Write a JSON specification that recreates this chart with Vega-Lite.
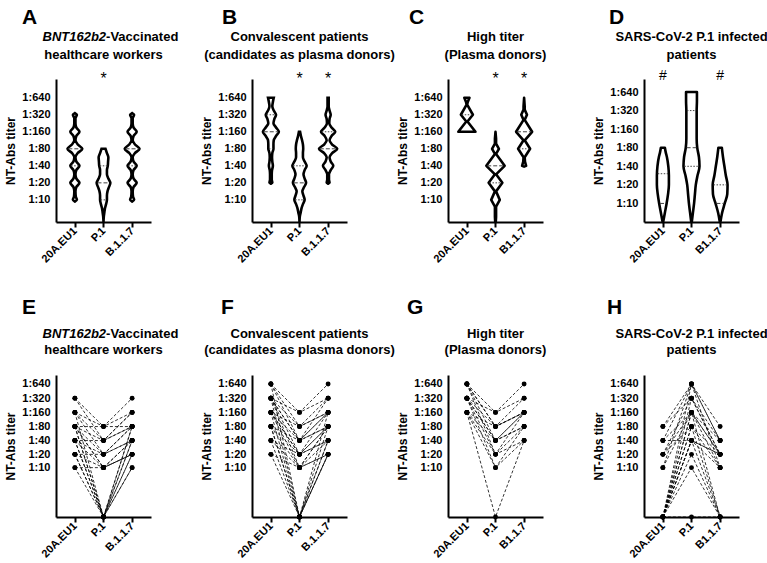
{
"$schema": "https://vega.github.io/schema/vega-lite/v6.json",
"background": "white",
"padding": {"left": 4, "top": 6, "right": 5, "bottom": 2},
"datasets": {
"pos": [{"k":"a","g":1},{"k":"b","g":2},{"k":"c","g":3}],
"one": [{"n":1}],
"violin": [
{"p":"A","g":1,"y":0.9,"lo":1,"hi":1},{"p":"A","g":1,"y":1.0,"lo":0.93,"hi":1.07},{"p":"A","g":1,"y":1.2,"lo":0.97,"hi":1.03},{"p":"A","g":1,"y":1.5,"lo":0.98,"hi":1.02},{"p":"A","g":1,"y":1.75,"lo":0.95,"hi":1.05},{"p":"A","g":1,"y":2.0,"lo":0.84,"hi":1.16},{"p":"A","g":1,"y":2.25,"lo":0.95,"hi":1.05},{"p":"A","g":1,"y":2.5,"lo":0.98,"hi":1.02},{"p":"A","g":1,"y":2.75,"lo":0.95,"hi":1.05},{"p":"A","g":1,"y":3.0,"lo":0.84,"hi":1.16},{"p":"A","g":1,"y":3.25,"lo":0.95,"hi":1.05},{"p":"A","g":1,"y":3.5,"lo":0.98,"hi":1.02},{"p":"A","g":1,"y":3.75,"lo":0.9,"hi":1.1},{"p":"A","g":1,"y":4.0,"lo":0.74,"hi":1.26},{"p":"A","g":1,"y":4.25,"lo":0.9,"hi":1.1},{"p":"A","g":1,"y":4.5,"lo":0.98,"hi":1.02},{"p":"A","g":1,"y":4.75,"lo":0.95,"hi":1.05},{"p":"A","g":1,"y":5.0,"lo":0.84,"hi":1.16},{"p":"A","g":1,"y":5.25,"lo":0.95,"hi":1.05},{"p":"A","g":1,"y":5.5,"lo":0.98,"hi":1.02},{"p":"A","g":1,"y":5.8,"lo":0.98,"hi":1.02},{"p":"A","g":1,"y":6.0,"lo":0.93,"hi":1.07},{"p":"A","g":1,"y":6.1,"lo":1,"hi":1},
{"p":"A","g":2,"y":-0.3,"lo":2,"hi":2},{"p":"A","g":2,"y":0.0,"lo":1.99,"hi":2.01},{"p":"A","g":2,"y":0.25,"lo":1.97,"hi":2.03},{"p":"A","g":2,"y":0.5,"lo":1.95,"hi":2.05},{"p":"A","g":2,"y":0.75,"lo":1.91,"hi":2.09},{"p":"A","g":2,"y":1.0,"lo":1.88,"hi":2.12},{"p":"A","g":2,"y":1.25,"lo":1.88,"hi":2.12},{"p":"A","g":2,"y":1.5,"lo":1.86,"hi":2.14},{"p":"A","g":2,"y":1.75,"lo":1.81,"hi":2.19},{"p":"A","g":2,"y":2.0,"lo":1.76,"hi":2.24},{"p":"A","g":2,"y":2.25,"lo":1.83,"hi":2.17},{"p":"A","g":2,"y":2.5,"lo":1.88,"hi":2.12},{"p":"A","g":2,"y":2.75,"lo":1.88,"hi":2.12},{"p":"A","g":2,"y":3.0,"lo":1.85,"hi":2.15},{"p":"A","g":2,"y":3.25,"lo":1.84,"hi":2.16},{"p":"A","g":2,"y":3.5,"lo":1.83,"hi":2.17},{"p":"A","g":2,"y":3.75,"lo":1.88,"hi":2.12},{"p":"A","g":2,"y":4.0,"lo":1.93,"hi":2.07},
{"p":"A","g":3,"y":0.9,"lo":3,"hi":3},{"p":"A","g":3,"y":1.0,"lo":2.93,"hi":3.07},{"p":"A","g":3,"y":1.2,"lo":2.97,"hi":3.03},{"p":"A","g":3,"y":1.5,"lo":2.98,"hi":3.02},{"p":"A","g":3,"y":1.75,"lo":2.95,"hi":3.05},{"p":"A","g":3,"y":2.0,"lo":2.84,"hi":3.16},{"p":"A","g":3,"y":2.25,"lo":2.95,"hi":3.05},{"p":"A","g":3,"y":2.5,"lo":2.98,"hi":3.02},{"p":"A","g":3,"y":2.75,"lo":2.95,"hi":3.05},{"p":"A","g":3,"y":3.0,"lo":2.84,"hi":3.16},{"p":"A","g":3,"y":3.25,"lo":2.95,"hi":3.05},{"p":"A","g":3,"y":3.5,"lo":2.98,"hi":3.02},{"p":"A","g":3,"y":3.75,"lo":2.9,"hi":3.1},{"p":"A","g":3,"y":4.0,"lo":2.74,"hi":3.26},{"p":"A","g":3,"y":4.25,"lo":2.9,"hi":3.1},{"p":"A","g":3,"y":4.5,"lo":2.98,"hi":3.02},{"p":"A","g":3,"y":4.75,"lo":2.95,"hi":3.05},{"p":"A","g":3,"y":5.0,"lo":2.84,"hi":3.16},{"p":"A","g":3,"y":5.25,"lo":2.95,"hi":3.05},{"p":"A","g":3,"y":5.5,"lo":2.98,"hi":3.02},{"p":"A","g":3,"y":5.8,"lo":2.98,"hi":3.02},{"p":"A","g":3,"y":6.0,"lo":2.93,"hi":3.07},{"p":"A","g":3,"y":6.1,"lo":3,"hi":3},
{"p":"B","g":1,"y":1.95,"lo":1,"hi":1},{"p":"B","g":1,"y":2.0,"lo":0.95,"hi":1.05},{"p":"B","g":1,"y":2.2,"lo":0.97,"hi":1.03},{"p":"B","g":1,"y":2.5,"lo":0.97,"hi":1.03},{"p":"B","g":1,"y":2.75,"lo":0.96,"hi":1.04},{"p":"B","g":1,"y":3.0,"lo":0.93,"hi":1.07},{"p":"B","g":1,"y":3.25,"lo":0.95,"hi":1.05},{"p":"B","g":1,"y":3.5,"lo":0.96,"hi":1.04},{"p":"B","g":1,"y":3.75,"lo":0.95,"hi":1.05},{"p":"B","g":1,"y":4.0,"lo":0.91,"hi":1.09},{"p":"B","g":1,"y":4.25,"lo":0.91,"hi":1.09},{"p":"B","g":1,"y":4.5,"lo":0.9,"hi":1.1},{"p":"B","g":1,"y":4.75,"lo":0.82,"hi":1.18},{"p":"B","g":1,"y":5.0,"lo":0.72,"hi":1.28},{"p":"B","g":1,"y":5.25,"lo":0.82,"hi":1.18},{"p":"B","g":1,"y":5.5,"lo":0.91,"hi":1.09},{"p":"B","g":1,"y":5.75,"lo":0.88,"hi":1.12},{"p":"B","g":1,"y":6.0,"lo":0.82,"hi":1.18},{"p":"B","g":1,"y":6.25,"lo":0.9,"hi":1.1},{"p":"B","g":1,"y":6.5,"lo":0.95,"hi":1.05},{"p":"B","g":1,"y":6.75,"lo":0.93,"hi":1.07},{"p":"B","g":1,"y":7.0,"lo":0.9,"hi":1.1},
{"p":"B","g":2,"y":-0.3,"lo":2,"hi":2},{"p":"B","g":2,"y":0.0,"lo":1.99,"hi":2.01},{"p":"B","g":2,"y":0.25,"lo":1.96,"hi":2.04},{"p":"B","g":2,"y":0.5,"lo":1.93,"hi":2.07},{"p":"B","g":2,"y":0.75,"lo":1.88,"hi":2.12},{"p":"B","g":2,"y":1.0,"lo":1.82,"hi":2.18},{"p":"B","g":2,"y":1.25,"lo":1.86,"hi":2.14},{"p":"B","g":2,"y":1.5,"lo":1.9,"hi":2.1},{"p":"B","g":2,"y":1.75,"lo":1.84,"hi":2.16},{"p":"B","g":2,"y":2.0,"lo":1.77,"hi":2.23},{"p":"B","g":2,"y":2.25,"lo":1.82,"hi":2.18},{"p":"B","g":2,"y":2.5,"lo":1.86,"hi":2.14},{"p":"B","g":2,"y":2.75,"lo":1.82,"hi":2.18},{"p":"B","g":2,"y":3.0,"lo":1.75,"hi":2.25},{"p":"B","g":2,"y":3.25,"lo":1.82,"hi":2.18},{"p":"B","g":2,"y":3.5,"lo":1.88,"hi":2.12},{"p":"B","g":2,"y":3.75,"lo":1.88,"hi":2.12},{"p":"B","g":2,"y":4.0,"lo":1.87,"hi":2.13},{"p":"B","g":2,"y":4.25,"lo":1.88,"hi":2.12},{"p":"B","g":2,"y":4.5,"lo":1.91,"hi":2.09},{"p":"B","g":2,"y":4.75,"lo":1.95,"hi":2.05},{"p":"B","g":2,"y":5.0,"lo":1.98,"hi":2.02},
{"p":"B","g":3,"y":1.95,"lo":3,"hi":3},{"p":"B","g":3,"y":2.0,"lo":2.95,"hi":3.05},{"p":"B","g":3,"y":2.2,"lo":2.97,"hi":3.03},{"p":"B","g":3,"y":2.5,"lo":2.97,"hi":3.03},{"p":"B","g":3,"y":2.75,"lo":2.91,"hi":3.09},{"p":"B","g":3,"y":3.0,"lo":2.82,"hi":3.18},{"p":"B","g":3,"y":3.25,"lo":2.91,"hi":3.09},{"p":"B","g":3,"y":3.5,"lo":2.95,"hi":3.05},{"p":"B","g":3,"y":3.75,"lo":2.86,"hi":3.14},{"p":"B","g":3,"y":4.0,"lo":2.68,"hi":3.32},{"p":"B","g":3,"y":4.25,"lo":2.86,"hi":3.14},{"p":"B","g":3,"y":4.5,"lo":2.95,"hi":3.05},{"p":"B","g":3,"y":4.75,"lo":2.88,"hi":3.12},{"p":"B","g":3,"y":5.0,"lo":2.75,"hi":3.25},{"p":"B","g":3,"y":5.25,"lo":2.88,"hi":3.12},{"p":"B","g":3,"y":5.5,"lo":2.96,"hi":3.04},{"p":"B","g":3,"y":5.75,"lo":2.95,"hi":3.05},{"p":"B","g":3,"y":6.0,"lo":2.91,"hi":3.09},{"p":"B","g":3,"y":6.25,"lo":2.95,"hi":3.05},{"p":"B","g":3,"y":6.5,"lo":2.98,"hi":3.02},{"p":"B","g":3,"y":6.75,"lo":2.98,"hi":3.02},{"p":"B","g":3,"y":7.0,"lo":2.98,"hi":3.02},
{"p":"C","g":1,"y":5.0,"lo":0.7,"hi":1.3},{"p":"C","g":1,"y":5.6,"lo":0.98,"hi":1.02},{"p":"C","g":1,"y":6.0,"lo":0.79,"hi":1.21},{"p":"C","g":1,"y":6.6,"lo":0.99,"hi":1.01},{"p":"C","g":1,"y":6.75,"lo":0.97,"hi":1.03},{"p":"C","g":1,"y":7.0,"lo":0.91,"hi":1.09},
{"p":"C","g":2,"y":-0.3,"lo":1.99,"hi":2.01},{"p":"C","g":2,"y":0.0,"lo":1.98,"hi":2.02},{"p":"C","g":2,"y":0.6,"lo":1.98,"hi":2.02},{"p":"C","g":2,"y":1.0,"lo":1.85,"hi":2.15},{"p":"C","g":2,"y":1.5,"lo":1.98,"hi":2.02},{"p":"C","g":2,"y":2.0,"lo":1.76,"hi":2.24},{"p":"C","g":2,"y":2.5,"lo":1.98,"hi":2.02},{"p":"C","g":2,"y":3.0,"lo":1.68,"hi":2.32},{"p":"C","g":2,"y":3.7,"lo":1.98,"hi":2.02},{"p":"C","g":2,"y":4.0,"lo":1.88,"hi":2.12},{"p":"C","g":2,"y":4.3,"lo":1.98,"hi":2.02},{"p":"C","g":2,"y":4.6,"lo":1.98,"hi":2.02},{"p":"C","g":2,"y":5.0,"lo":2,"hi":2},
{"p":"C","g":3,"y":2.95,"lo":3,"hi":3},{"p":"C","g":3,"y":3.0,"lo":2.93,"hi":3.07},{"p":"C","g":3,"y":3.25,"lo":2.97,"hi":3.03},{"p":"C","g":3,"y":3.5,"lo":2.98,"hi":3.02},{"p":"C","g":3,"y":4.0,"lo":2.79,"hi":3.21},{"p":"C","g":3,"y":4.5,"lo":2.98,"hi":3.02},{"p":"C","g":3,"y":5.0,"lo":2.72,"hi":3.28},{"p":"C","g":3,"y":5.7,"lo":2.98,"hi":3.02},{"p":"C","g":3,"y":6.0,"lo":2.9,"hi":3.1},{"p":"C","g":3,"y":6.3,"lo":2.98,"hi":3.02},{"p":"C","g":3,"y":6.5,"lo":2.98,"hi":3.02},{"p":"C","g":3,"y":7.0,"lo":3,"hi":3},
{"p":"D","g":1,"y":0.0,"lo":0.99,"hi":1.01},{"p":"D","g":1,"y":0.5,"lo":0.93,"hi":1.07},{"p":"D","g":1,"y":1.0,"lo":0.87,"hi":1.13},{"p":"D","g":1,"y":1.5,"lo":0.82,"hi":1.18},{"p":"D","g":1,"y":2.0,"lo":0.79,"hi":1.21},{"p":"D","g":1,"y":2.5,"lo":0.79,"hi":1.21},{"p":"D","g":1,"y":3.0,"lo":0.81,"hi":1.19},{"p":"D","g":1,"y":3.5,"lo":0.86,"hi":1.14},{"p":"D","g":1,"y":3.75,"lo":0.9,"hi":1.1},{"p":"D","g":1,"y":4.0,"lo":0.93,"hi":1.07},
{"p":"D","g":2,"y":0.0,"lo":1.99,"hi":2.01},{"p":"D","g":2,"y":0.5,"lo":1.95,"hi":2.05},{"p":"D","g":2,"y":1.0,"lo":1.91,"hi":2.09},{"p":"D","g":2,"y":1.5,"lo":1.88,"hi":2.12},{"p":"D","g":2,"y":2.0,"lo":1.85,"hi":2.15},{"p":"D","g":2,"y":2.5,"lo":1.79,"hi":2.21},{"p":"D","g":2,"y":3.0,"lo":1.72,"hi":2.28},{"p":"D","g":2,"y":3.5,"lo":1.74,"hi":2.26},{"p":"D","g":2,"y":4.0,"lo":1.8,"hi":2.2},{"p":"D","g":2,"y":4.5,"lo":1.82,"hi":2.18},{"p":"D","g":2,"y":5.0,"lo":1.82,"hi":2.18},{"p":"D","g":2,"y":5.5,"lo":1.82,"hi":2.18},{"p":"D","g":2,"y":6.0,"lo":1.82,"hi":2.18},{"p":"D","g":2,"y":6.5,"lo":1.81,"hi":2.19},{"p":"D","g":2,"y":7.0,"lo":1.81,"hi":2.19},
{"p":"D","g":3,"y":0.0,"lo":2.99,"hi":3.01},{"p":"D","g":3,"y":0.5,"lo":2.93,"hi":3.07},{"p":"D","g":3,"y":1.0,"lo":2.84,"hi":3.16},{"p":"D","g":3,"y":1.5,"lo":2.75,"hi":3.25},{"p":"D","g":3,"y":2.0,"lo":2.74,"hi":3.26},{"p":"D","g":3,"y":2.5,"lo":2.8,"hi":3.2},{"p":"D","g":3,"y":3.0,"lo":2.85,"hi":3.15},{"p":"D","g":3,"y":3.5,"lo":2.9,"hi":3.1},{"p":"D","g":3,"y":4.0,"lo":2.94,"hi":3.06}
],
"quart": [
{"p":"A","y":4,"lo":0.77,"hi":1.23,"t":"m"},{"p":"A","y":3,"lo":0.87,"hi":1.13,"t":"q"},{"p":"A","y":2,"lo":1.79,"hi":2.21,"t":"m"},{"p":"A","y":3,"lo":1.87,"hi":2.13,"t":"q"},{"p":"A","y":1,"lo":1.9,"hi":2.1,"t":"q"},{"p":"A","y":4,"lo":2.77,"hi":3.23,"t":"m"},{"p":"A","y":3,"lo":2.87,"hi":3.13,"t":"q"},
{"p":"B","y":6,"lo":0.85,"hi":1.15,"t":"q"},{"p":"B","y":5,"lo":0.75,"hi":1.25,"t":"m"},{"p":"B","y":4,"lo":0.93,"hi":1.07,"t":"q"},{"p":"B","y":3,"lo":1.78,"hi":2.22,"t":"q"},{"p":"B","y":2,"lo":1.8,"hi":2.2,"t":"m"},{"p":"B","y":1,"lo":1.85,"hi":2.15,"t":"q"},{"p":"B","y":5,"lo":2.78,"hi":3.22,"t":"q"},{"p":"B","y":4,"lo":2.71,"hi":3.29,"t":"m"},
{"p":"C","y":6,"lo":0.82,"hi":1.18,"t":"q"},{"p":"C","y":3,"lo":1.71,"hi":2.29,"t":"m"},{"p":"C","y":2,"lo":1.79,"hi":2.21,"t":"q"},{"p":"C","y":5,"lo":2.75,"hi":3.25,"t":"m"},{"p":"C","y":4,"lo":2.82,"hi":3.18,"t":"q"},
{"p":"D","y":2.6,"lo":0.82,"hi":1.18,"t":"q"},{"p":"D","y":1,"lo":0.9,"hi":1.1,"t":"m"},{"p":"D","y":6,"lo":1.84,"hi":2.16,"t":"q"},{"p":"D","y":4,"lo":1.83,"hi":2.17,"t":"m"},{"p":"D","y":3,"lo":1.75,"hi":2.25,"t":"q"},{"p":"D","y":2,"lo":2.77,"hi":3.23,"t":"q"},{"p":"D","y":1,"lo":2.87,"hi":3.13,"t":"m"}
],
"pairs": [
{"p":"E","s":1,"a":320,"b":80,"c":320},{"p":"E","s":2,"a":320,"b":40,"c":160},{"p":"E","s":3,"a":160,"b":80,"c":160},{"p":"E","s":4,"a":160,"b":20,"c":80},{"p":"E","s":5,"a":160,"b":0,"c":80},{"p":"E","s":6,"a":80,"b":80,"c":80},{"p":"E","s":7,"a":80,"b":40,"c":160},{"p":"E","s":8,"a":80,"b":20,"c":80},{"p":"E","s":9,"a":80,"b":10,"c":40},{"p":"E","s":10,"a":80,"b":0,"c":40},{"p":"E","s":11,"a":80,"b":0,"c":80},{"p":"E","s":12,"a":40,"b":40,"c":80},{"p":"E","s":13,"a":40,"b":20,"c":40},{"p":"E","s":14,"a":40,"b":10,"c":40},{"p":"E","s":15,"a":40,"b":0,"c":20},{"p":"E","s":16,"a":40,"b":0,"c":40},{"p":"E","s":17,"a":20,"b":20,"c":40},{"p":"E","s":18,"a":20,"b":10,"c":20},{"p":"E","s":19,"a":20,"b":0,"c":20},{"p":"E","s":20,"a":20,"b":0,"c":10},{"p":"E","s":21,"a":10,"b":0,"c":10},{"p":"E","s":22,"a":10,"b":10,"c":20},{"p":"E","s":23,"a":160,"b":40,"c":80},{"p":"E","s":24,"a":80,"b":10,"c":20},
{"p":"F","s":1,"a":640,"b":160,"c":640},{"p":"F","s":2,"a":640,"b":80,"c":320},{"p":"F","s":3,"a":640,"b":40,"c":160},{"p":"F","s":4,"a":640,"b":0,"c":160},{"p":"F","s":5,"a":320,"b":160,"c":320},{"p":"F","s":6,"a":320,"b":80,"c":160},{"p":"F","s":7,"a":320,"b":40,"c":160},{"p":"F","s":8,"a":320,"b":20,"c":80},{"p":"F","s":9,"a":320,"b":10,"c":80},{"p":"F","s":10,"a":320,"b":0,"c":80},{"p":"F","s":11,"a":160,"b":80,"c":160},{"p":"F","s":12,"a":160,"b":40,"c":80},{"p":"F","s":13,"a":160,"b":20,"c":80},{"p":"F","s":14,"a":160,"b":10,"c":40},{"p":"F","s":15,"a":160,"b":0,"c":40},{"p":"F","s":16,"a":80,"b":40,"c":80},{"p":"F","s":17,"a":80,"b":20,"c":40},{"p":"F","s":18,"a":80,"b":10,"c":80},{"p":"F","s":19,"a":80,"b":0,"c":40},{"p":"F","s":20,"a":80,"b":0,"c":20},{"p":"F","s":21,"a":40,"b":20,"c":40},{"p":"F","s":22,"a":40,"b":10,"c":20},{"p":"F","s":23,"a":40,"b":0,"c":20},{"p":"F","s":24,"a":20,"b":10,"c":20},{"p":"F","s":25,"a":20,"b":0,"c":20},{"p":"F","s":26,"a":160,"b":20,"c":160},{"p":"F","s":27,"a":320,"b":40,"c":320},
{"p":"G","s":1,"a":640,"b":160,"c":640},{"p":"G","s":2,"a":640,"b":80,"c":320},{"p":"G","s":3,"a":640,"b":40,"c":160},{"p":"G","s":4,"a":640,"b":20,"c":160},{"p":"G","s":5,"a":320,"b":160,"c":320},{"p":"G","s":6,"a":320,"b":80,"c":160},{"p":"G","s":7,"a":320,"b":40,"c":160},{"p":"G","s":8,"a":320,"b":20,"c":80},{"p":"G","s":9,"a":320,"b":10,"c":80},{"p":"G","s":10,"a":160,"b":80,"c":160},{"p":"G","s":11,"a":160,"b":40,"c":80},{"p":"G","s":12,"a":160,"b":20,"c":40},{"p":"G","s":13,"a":160,"b":10,"c":40},{"p":"G","s":14,"a":160,"b":0,"c":40},{"p":"G","s":15,"a":320,"b":40,"c":80},{"p":"G","s":16,"a":640,"b":80,"c":160},
{"p":"H","s":1,"a":80,"b":640,"c":80},{"p":"H","s":2,"a":80,"b":320,"c":40},{"p":"H","s":3,"a":40,"b":640,"c":40},{"p":"H","s":4,"a":40,"b":160,"c":20},{"p":"H","s":5,"a":40,"b":40,"c":20},{"p":"H","s":6,"a":20,"b":320,"c":20},{"p":"H","s":7,"a":20,"b":160,"c":10},{"p":"H","s":8,"a":20,"b":80,"c":10},{"p":"H","s":9,"a":10,"b":640,"c":10},{"p":"H","s":10,"a":10,"b":160,"c":20},{"p":"H","s":11,"a":0,"b":640,"c":40},{"p":"H","s":12,"a":0,"b":320,"c":20},{"p":"H","s":13,"a":0,"b":160,"c":0},{"p":"H","s":14,"a":0,"b":80,"c":20},{"p":"H","s":15,"a":0,"b":80,"c":0},{"p":"H","s":16,"a":0,"b":40,"c":10},{"p":"H","s":17,"a":0,"b":40,"c":0},{"p":"H","s":18,"a":0,"b":20,"c":0},{"p":"H","s":19,"a":0,"b":10,"c":0},{"p":"H","s":20,"a":0,"b":0,"c":0},{"p":"H","s":21,"a":0,"b":40,"c":20},{"p":"H","s":22,"a":0,"b":160,"c":40}
]
},
"columns": 4,
"spacing": {"row": 153, "column": 101},
"bounds": "flush",
"concat": [
{"width": 95, "height": 143, "title": {"text": "A", "dx": -34},
 "layer": [
  {"data": {"name": "violin"}, "transform": [{"filter": "datum.p === 'A'"}],
   "mark": {"type": "area", "orient": "horizontal", "interpolate": "monotone", "fill": "white", "stroke": "black", "strokeWidth": 2.6},
   "encoding": {
    "y": {"field": "y", "type": "quantitative", "scale": {"domain": [-0.3, 8.1], "nice": false, "zero": false}, "axis": {"title": "NT-Abs titer", "values": [1,2,3,4,5,6,7], "tickCount": 10, "labelOverlap": false, "labelExpr": "'1:' + (5 * pow(2, datum.value))"}},
    "x": {"field": "lo", "type": "quantitative", "scale": {"domain": [0.34, 3.66], "nice": false, "zero": false}, "axis": {"title": null, "values": [1,2,3], "tickCount": 5, "labelOverlap": false, "labelExpr": "datum.value == 1 ? '20A.EU1' : datum.value == 2 ? 'P.1' : 'B.1.1.7'"}},
    "x2": {"field": "hi"}, "detail": {"field": "g"}}},
  {"data": {"name": "quart"}, "transform": [{"filter": "datum.p === 'A'"}],
   "mark": {"type": "rule", "strokeWidth": 1, "color": "#444"},
   "encoding": {"y": {"field": "y", "type": "quantitative"}, "x": {"field": "lo", "type": "quantitative"}, "x2": {"field": "hi"},
    "strokeDash": {"field": "t", "type": "nominal", "scale": {"domain": ["m", "q"], "range": [[4, 2], [1.5, 1.5]]}, "legend": null}}},
  {"data": {"values": [{"g": 2, "s": "*"}]}, "mark": {"type": "text", "fontSize": 16, "color": "black"},
   "encoding": {"x": {"field": "g", "type": "quantitative"}, "y": {"datum": 8.1}, "text": {"field": "s"}}},
  {"data": {"name": "one"}, "mark": {"type": "text", "fontSize": 13, "fontWeight": "bold", "fontStyle": "italic", "align": "right", "color": "black"},
   "encoding": {"x": {"datum": 2.09}, "y": {"datum": 10.57}, "text": {"value": "BNT162b2"}}},
  {"data": {"name": "one"}, "mark": {"type": "text", "fontSize": 13, "fontWeight": "bold", "align": "left", "color": "black"},
   "encoding": {"x": {"datum": 2.09}, "y": {"datum": 10.57}, "text": {"value": "-Vaccinated"}}},
  {"data": {"name": "one"}, "mark": {"type": "text", "fontSize": 13, "fontWeight": "bold", "align": "center", "color": "black"},
   "encoding": {"x": {"datum": 2}, "y": {"datum": 9.52}, "text": {"value": "healthcare workers"}}}
 ]},
{"width": 95, "height": 143, "title": {"text": "B", "dx": -30},
 "layer": [
  {"data": {"name": "violin"}, "transform": [{"filter": "datum.p === 'B'"}],
   "mark": {"type": "area", "orient": "horizontal", "interpolate": "monotone", "fill": "white", "stroke": "black", "strokeWidth": 2.6},
   "encoding": {
    "y": {"field": "y", "type": "quantitative", "scale": {"domain": [-0.3, 8.1], "nice": false, "zero": false}, "axis": {"title": "NT-Abs titer", "values": [1,2,3,4,5,6,7], "tickCount": 10, "labelOverlap": false, "labelExpr": "'1:' + (5 * pow(2, datum.value))"}},
    "x": {"field": "lo", "type": "quantitative", "scale": {"domain": [0.34, 3.66], "nice": false, "zero": false}, "axis": {"title": null, "values": [1,2,3], "tickCount": 5, "labelOverlap": false, "labelExpr": "datum.value == 1 ? '20A.EU1' : datum.value == 2 ? 'P.1' : 'B.1.1.7'"}},
    "x2": {"field": "hi"}, "detail": {"field": "g"}}},
  {"data": {"name": "quart"}, "transform": [{"filter": "datum.p === 'B'"}],
   "mark": {"type": "rule", "strokeWidth": 1, "color": "#444"},
   "encoding": {"y": {"field": "y", "type": "quantitative"}, "x": {"field": "lo", "type": "quantitative"}, "x2": {"field": "hi"},
    "strokeDash": {"field": "t", "type": "nominal", "scale": {"domain": ["m", "q"], "range": [[4, 2], [1.5, 1.5]]}, "legend": null}}},
  {"data": {"values": [{"g": 2, "s": "*"}, {"g": 3, "s": "*"}]}, "mark": {"type": "text", "fontSize": 16, "color": "black"},
   "encoding": {"x": {"field": "g", "type": "quantitative"}, "y": {"datum": 8.1}, "text": {"field": "s"}}},
  {"data": {"name": "one"}, "mark": {"type": "text", "fontSize": 13, "fontWeight": "bold", "align": "center", "color": "black"},
   "encoding": {"x": {"datum": 2}, "y": {"datum": 10.57}, "text": {"value": "Convalescent patients"}}},
  {"data": {"name": "one"}, "mark": {"type": "text", "fontSize": 13, "fontWeight": "bold", "align": "center", "color": "black"},
   "encoding": {"x": {"datum": 2}, "y": {"datum": 9.52}, "text": {"value": "(candidates as plasma donors)"}}}
 ]},
{"width": 95, "height": 143, "title": {"text": "C", "dx": -39},
 "layer": [
  {"data": {"name": "violin"}, "transform": [{"filter": "datum.p === 'C'"}],
   "mark": {"type": "area", "orient": "horizontal", "interpolate": "linear", "fill": "white", "stroke": "black", "strokeWidth": 2.6, "strokeJoin": "round"},
   "encoding": {
    "y": {"field": "y", "type": "quantitative", "scale": {"domain": [-0.3, 8.1], "nice": false, "zero": false}, "axis": {"title": "NT-Abs titer", "values": [1,2,3,4,5,6,7], "tickCount": 10, "labelOverlap": false, "labelExpr": "'1:' + (5 * pow(2, datum.value))"}},
    "x": {"field": "lo", "type": "quantitative", "scale": {"domain": [0.34, 3.66], "nice": false, "zero": false}, "axis": {"title": null, "values": [1,2,3], "tickCount": 5, "labelOverlap": false, "labelExpr": "datum.value == 1 ? '20A.EU1' : datum.value == 2 ? 'P.1' : 'B1.1.7'"}},
    "x2": {"field": "hi"}, "detail": {"field": "g"}}},
  {"data": {"name": "quart"}, "transform": [{"filter": "datum.p === 'C'"}],
   "mark": {"type": "rule", "strokeWidth": 1, "color": "#444"},
   "encoding": {"y": {"field": "y", "type": "quantitative"}, "x": {"field": "lo", "type": "quantitative"}, "x2": {"field": "hi"},
    "strokeDash": {"field": "t", "type": "nominal", "scale": {"domain": ["m", "q"], "range": [[4, 2], [1.5, 1.5]]}, "legend": null}}},
  {"data": {"values": [{"g": 2, "s": "*"}, {"g": 3, "s": "*"}]}, "mark": {"type": "text", "fontSize": 16, "color": "black"},
   "encoding": {"x": {"field": "g", "type": "quantitative"}, "y": {"datum": 8.1}, "text": {"field": "s"}}},
  {"data": {"name": "one"}, "mark": {"type": "text", "fontSize": 13, "fontWeight": "bold", "align": "center", "color": "black"},
   "encoding": {"x": {"datum": 2}, "y": {"datum": 10.57}, "text": {"value": "High titer"}}},
  {"data": {"name": "one"}, "mark": {"type": "text", "fontSize": 13, "fontWeight": "bold", "align": "center", "color": "black"},
   "encoding": {"x": {"datum": 2}, "y": {"datum": 9.52}, "text": {"value": "(Plasma donors)"}}}
 ]},
{"width": 95, "height": 143, "title": {"text": "D", "dx": -35},
 "layer": [
  {"data": {"name": "violin"}, "transform": [{"filter": "datum.p === 'D'"}],
   "mark": {"type": "area", "orient": "horizontal", "interpolate": "monotone", "fill": "white", "stroke": "black", "strokeWidth": 2.6, "strokeJoin": "round"},
   "encoding": {
    "y": {"field": "y", "type": "quantitative", "scale": {"domain": [0, 7.7], "nice": false, "zero": false}, "axis": {"title": "NT-Abs titer", "values": [1,2,3,4,5,6,7], "tickCount": 10, "labelOverlap": false, "labelExpr": "'1:' + (5 * pow(2, datum.value))"}},
    "x": {"field": "lo", "type": "quantitative", "scale": {"domain": [0.34, 3.66], "nice": false, "zero": false}, "axis": {"title": null, "values": [1,2,3], "tickCount": 5, "labelOverlap": false, "labelExpr": "datum.value == 1 ? '20A.EU1' : datum.value == 2 ? 'P.1' : 'B1.1.7'"}},
    "x2": {"field": "hi"}, "detail": {"field": "g"}}},
  {"data": {"name": "quart"}, "transform": [{"filter": "datum.p === 'D'"}],
   "mark": {"type": "rule", "strokeWidth": 1, "color": "#444"},
   "encoding": {"y": {"field": "y", "type": "quantitative"}, "x": {"field": "lo", "type": "quantitative"}, "x2": {"field": "hi"},
    "strokeDash": {"field": "t", "type": "nominal", "scale": {"domain": ["m", "q"], "range": [[4, 2], [1.5, 1.5]]}, "legend": null}}},
  {"data": {"values": [{"g": 1, "s": "#"}, {"g": 3, "s": "#"}]}, "mark": {"type": "text", "fontSize": 14, "color": "black"},
   "encoding": {"x": {"field": "g", "type": "quantitative"}, "y": {"datum": 7.85}, "text": {"field": "s"}}},
  {"data": {"name": "one"}, "mark": {"type": "text", "fontSize": 13, "fontWeight": "bold", "align": "center", "color": "black"},
   "encoding": {"x": {"datum": 2}, "y": {"datum": 9.96}, "text": {"value": "SARS-CoV-2 P.1 infected"}}},
  {"data": {"name": "one"}, "mark": {"type": "text", "fontSize": 13, "fontWeight": "bold", "align": "center", "color": "black"},
   "encoding": {"x": {"datum": 2}, "y": {"datum": 9.0}, "text": {"value": "patients"}}}
 ]},
{"width": 95, "height": 142, "title": {"text": "E", "dx": -34, "offset": 10},
 "layer": [
  {"data": {"name": "pairs"}, "transform": [{"filter": "datum.p === 'E'"}, {"fold": ["a", "b", "c"], "as": ["k", "t"]}, {"lookup": "k", "from": {"data": {"name": "pos"}, "key": "k", "fields": ["g"]}}],
   "mark": {"type": "line", "strokeDash": [3, 2], "strokeWidth": 0.8, "color": "black"},
   "encoding": {
    "y": {"field": "t", "type": "quantitative", "scale": {"type": "symlog", "domain": [0, 990], "nice": false, "zero": false}, "axis": {"title": "NT-Abs titer", "values": [10,20,40,80,160,320,640], "tickCount": 10, "labelOverlap": false, "labelExpr": "'1:' + datum.value"}},
    "x": {"field": "g", "type": "quantitative", "scale": {"domain": [0.34, 3.66], "nice": false, "zero": false}, "axis": {"title": null, "values": [1,2,3], "tickCount": 5, "labelOverlap": false, "labelExpr": "datum.value == 1 ? '20A.EU1' : datum.value == 2 ? 'P.1' : 'B.1.1.7'"}},
    "detail": {"field": "s"}}},
  {"data": {"name": "pairs"}, "transform": [{"filter": "datum.p === 'E'"}, {"fold": ["a", "b", "c"], "as": ["k", "t"]}, {"lookup": "k", "from": {"data": {"name": "pos"}, "key": "k", "fields": ["g"]}}],
   "mark": {"type": "circle", "size": 24, "color": "black", "opacity": 1},
   "encoding": {"y": {"field": "t", "type": "quantitative"}, "x": {"field": "g", "type": "quantitative"}}},
  {"data": {"name": "one"}, "mark": {"type": "text", "fontSize": 13, "fontWeight": "bold", "fontStyle": "italic", "align": "right", "color": "black"},
   "encoding": {"x": {"datum": 2.09}, "y": {"datum": 7266}, "text": {"value": "BNT162b2"}}},
  {"data": {"name": "one"}, "mark": {"type": "text", "fontSize": 13, "fontWeight": "bold", "align": "left", "color": "black"},
   "encoding": {"x": {"datum": 2.09}, "y": {"datum": 7266}, "text": {"value": "-Vaccinated"}}},
  {"data": {"name": "one"}, "mark": {"type": "text", "fontSize": 13, "fontWeight": "bold", "align": "center", "color": "black"},
   "encoding": {"x": {"datum": 2}, "y": {"datum": 3341}, "text": {"value": "healthcare workers"}}}
 ]},
{"width": 95, "height": 142, "title": {"text": "F", "dx": -31, "offset": 10},
 "layer": [
  {"data": {"name": "pairs"}, "transform": [{"filter": "datum.p === 'F'"}, {"fold": ["a", "b", "c"], "as": ["k", "t"]}, {"lookup": "k", "from": {"data": {"name": "pos"}, "key": "k", "fields": ["g"]}}],
   "mark": {"type": "line", "strokeDash": [3, 2], "strokeWidth": 0.8, "color": "black"},
   "encoding": {
    "y": {"field": "t", "type": "quantitative", "scale": {"type": "symlog", "domain": [0, 990], "nice": false, "zero": false}, "axis": {"title": "NT-Abs titer", "values": [10,20,40,80,160,320,640], "tickCount": 10, "labelOverlap": false, "labelExpr": "'1:' + datum.value"}},
    "x": {"field": "g", "type": "quantitative", "scale": {"domain": [0.34, 3.66], "nice": false, "zero": false}, "axis": {"title": null, "values": [1,2,3], "tickCount": 5, "labelOverlap": false, "labelExpr": "datum.value == 1 ? '20A.EU1' : datum.value == 2 ? 'P.1' : 'B.1.1.7'"}},
    "detail": {"field": "s"}}},
  {"data": {"name": "pairs"}, "transform": [{"filter": "datum.p === 'F'"}, {"fold": ["a", "b", "c"], "as": ["k", "t"]}, {"lookup": "k", "from": {"data": {"name": "pos"}, "key": "k", "fields": ["g"]}}],
   "mark": {"type": "circle", "size": 24, "color": "black", "opacity": 1},
   "encoding": {"y": {"field": "t", "type": "quantitative"}, "x": {"field": "g", "type": "quantitative"}}},
  {"data": {"name": "one"}, "mark": {"type": "text", "fontSize": 13, "fontWeight": "bold", "align": "center", "color": "black"},
   "encoding": {"x": {"datum": 2}, "y": {"datum": 7266}, "text": {"value": "Convalescent patients"}}},
  {"data": {"name": "one"}, "mark": {"type": "text", "fontSize": 13, "fontWeight": "bold", "align": "center", "color": "black"},
   "encoding": {"x": {"datum": 2}, "y": {"datum": 3341}, "text": {"value": "(candidates as plasma donors)"}}}
 ]},
{"width": 95, "height": 142, "title": {"text": "G", "dx": -41, "offset": 10},
 "layer": [
  {"data": {"name": "pairs"}, "transform": [{"filter": "datum.p === 'G'"}, {"fold": ["a", "b", "c"], "as": ["k", "t"]}, {"lookup": "k", "from": {"data": {"name": "pos"}, "key": "k", "fields": ["g"]}}],
   "mark": {"type": "line", "strokeDash": [3, 2], "strokeWidth": 0.8, "color": "black"},
   "encoding": {
    "y": {"field": "t", "type": "quantitative", "scale": {"type": "symlog", "domain": [0, 990], "nice": false, "zero": false}, "axis": {"title": "NT-Abs titer", "values": [10,20,40,80,160,320,640], "tickCount": 10, "labelOverlap": false, "labelExpr": "'1:' + datum.value"}},
    "x": {"field": "g", "type": "quantitative", "scale": {"domain": [0.34, 3.66], "nice": false, "zero": false}, "axis": {"title": null, "values": [1,2,3], "tickCount": 5, "labelOverlap": false, "labelExpr": "datum.value == 1 ? '20A.EU1' : datum.value == 2 ? 'P.1' : 'B1.1.7'"}},
    "detail": {"field": "s"}}},
  {"data": {"name": "pairs"}, "transform": [{"filter": "datum.p === 'G'"}, {"fold": ["a", "b", "c"], "as": ["k", "t"]}, {"lookup": "k", "from": {"data": {"name": "pos"}, "key": "k", "fields": ["g"]}}],
   "mark": {"type": "circle", "size": 24, "color": "black", "opacity": 1},
   "encoding": {"y": {"field": "t", "type": "quantitative"}, "x": {"field": "g", "type": "quantitative"}}},
  {"data": {"name": "one"}, "mark": {"type": "text", "fontSize": 13, "fontWeight": "bold", "align": "center", "color": "black"},
   "encoding": {"x": {"datum": 2}, "y": {"datum": 7266}, "text": {"value": "High titer"}}},
  {"data": {"name": "one"}, "mark": {"type": "text", "fontSize": 13, "fontWeight": "bold", "align": "center", "color": "black"},
   "encoding": {"x": {"datum": 2}, "y": {"datum": 3341}, "text": {"value": "(Plasma donors)"}}}
 ]},
{"width": 95, "height": 142, "title": {"text": "H", "dx": -37, "offset": 10},
 "layer": [
  {"data": {"name": "pairs"}, "transform": [{"filter": "datum.p === 'H'"}, {"fold": ["a", "b", "c"], "as": ["k", "t"]}, {"lookup": "k", "from": {"data": {"name": "pos"}, "key": "k", "fields": ["g"]}}],
   "mark": {"type": "line", "strokeDash": [3, 2], "strokeWidth": 0.8, "color": "black"},
   "encoding": {
    "y": {"field": "t", "type": "quantitative", "scale": {"type": "symlog", "domain": [0, 990], "nice": false, "zero": false}, "axis": {"title": "NT-Abs titer", "values": [10,20,40,80,160,320,640], "tickCount": 10, "labelOverlap": false, "labelExpr": "'1:' + datum.value"}},
    "x": {"field": "g", "type": "quantitative", "scale": {"domain": [0.34, 3.66], "nice": false, "zero": false}, "axis": {"title": null, "values": [1,2,3], "tickCount": 5, "labelOverlap": false, "labelExpr": "datum.value == 1 ? '20A.EU1' : datum.value == 2 ? 'P.1' : 'B1.1.7'"}},
    "detail": {"field": "s"}}},
  {"data": {"name": "pairs"}, "transform": [{"filter": "datum.p === 'H'"}, {"fold": ["a", "b", "c"], "as": ["k", "t"]}, {"lookup": "k", "from": {"data": {"name": "pos"}, "key": "k", "fields": ["g"]}}],
   "mark": {"type": "circle", "size": 24, "color": "black", "opacity": 1},
   "encoding": {"y": {"field": "t", "type": "quantitative"}, "x": {"field": "g", "type": "quantitative"}}},
  {"data": {"name": "one"}, "mark": {"type": "text", "fontSize": 13, "fontWeight": "bold", "align": "center", "color": "black"},
   "encoding": {"x": {"datum": 2}, "y": {"datum": 7266}, "text": {"value": "SARS-CoV-2 P.1 infected"}}},
  {"data": {"name": "one"}, "mark": {"type": "text", "fontSize": 13, "fontWeight": "bold", "align": "center", "color": "black"},
   "encoding": {"x": {"datum": 2}, "y": {"datum": 3341}, "text": {"value": "patients"}}}
 ]}
],
"config": {
 "font": "Liberation Sans",
 "view": {"stroke": null},
 "axis": {"grid": false, "labelOverlap": false, "domainColor": "black", "domainWidth": 2, "labelColor": "black", "labelFont": "Liberation Sans", "labelFontWeight": "bold", "labelFontSize": 11, "titleFont": "Liberation Sans", "titleFontWeight": "bold", "titleFontSize": 12, "titleColor": "black"},
 "axisX": {"tickColor": "black", "tickWidth": 2, "tickSize": 5, "labelAngle": -45, "labelAlign": "right", "labelBaseline": "middle", "labelPadding": 2},
 "axisY": {"ticks": false, "labelPadding": 6, "titlePadding": 4},
 "title": {"fontSize": 21, "fontWeight": "bold", "font": "Liberation Sans", "color": "black", "frame": "group", "anchor": "start", "offset": 3}
}
}
